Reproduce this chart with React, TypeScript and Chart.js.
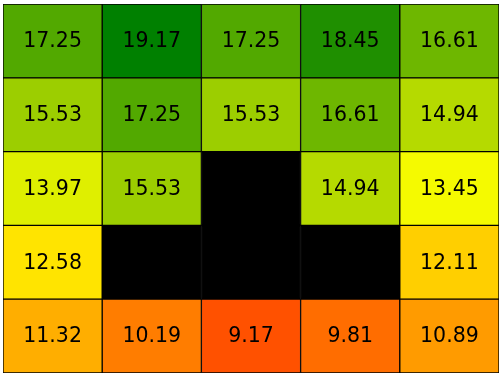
import React, { useEffect, useRef } from "react";
import { Chart, registerables } from "chart.js";

Chart.register(...registerables);

const columns = ["C1", "C2", "C3", "C4", "C5"];
// rows from top to bottom
const row1 = [17.25, 19.17, 17.25, 18.45, 16.61];
const row2 = [15.53, 17.25, 15.53, 16.61, 14.94];
const row3 = [13.97, 15.53, null, 14.94, 13.45];
const row4 = [12.58, null, null, null, 12.11];
const row5 = [11.32, 10.19, 9.17, 9.81, 10.89];
const rows: (number | null)[][] = [row1, row2, row3, row4, row5];

const LOW = 7.27;
const MID = 13.22;
const HIGH = 19.17;

function colorFor(v: number | null): string {
  if (v === null) return "#000000";
  let r: number, g: number, b = 0;
  if (v <= MID) {
    const t = Math.max(0, Math.min(1, (v - LOW) / (MID - LOW)));
    r = 255;
    g = 255 * t;
  } else {
    const t = Math.max(0, Math.min(1, (v - MID) / (HIGH - MID)));
    r = 255 * (1 - t);
    g = 255 - 127 * t;
  }
  return `rgb(${Math.round(r)},${Math.round(g)},${b})`;
}

const labelPlugin = {
  id: "cellLabels",
  afterDatasetsDraw(chart: any) {
    const ctx = chart.ctx;
    ctx.save();
    ctx.font = '20.5px "DejaVu Sans"';
    ctx.fillStyle = "#000000";
    ctx.textAlign = "center";
    ctx.textBaseline = "middle";
    chart.data.datasets.forEach((ds: any, di: number) => {
      const meta = chart.getDatasetMeta(di);
      meta.data.forEach((el: any, i: number) => {
        const v = ds.values[i];
        if (v === null) return;
        const { x, y, base } = el.getProps(["x", "y", "base"], true);
        ctx.fillText(v.toFixed(2), x, (y + base) / 2 + 1);
      });
    });
    ctx.restore();
  },
};

export default function App() {
  const ref = useRef<HTMLCanvasElement>(null);
  useEffect(() => {
    if (!ref.current) return;
    const bottomFirst = [...rows].reverse();
    const chart = new Chart(ref.current, {
      type: "bar",
      data: {
        labels: columns,
        datasets: bottomFirst.map((r, i) => ({
          label: `row${i}`,
          data: r.map(() => 1),
          values: r,
          backgroundColor: r.map(colorFor),
          borderColor: "#000000",
          borderWidth: 1,
          borderSkipped: false,
          barPercentage: 1,
          categoryPercentage: 1,
        })) as any,
      },
      options: {
        animation: false,
        responsive: true,
        maintainAspectRatio: false,
        layout: { padding: { left: 3, right: 4, top: 4, bottom: 5 } },
        plugins: { legend: { display: false }, tooltip: { enabled: false } },
        scales: {
          x: { stacked: true, display: false },
          y: { stacked: true, display: false, min: 0, max: 5 },
        },
      },
      plugins: [labelPlugin],
    });
    return () => chart.destroy();
  }, []);
  return (
    <div style={{ position: "fixed", left: 0, top: 0, width: 503, height: 378, background: "#fff" }}>
      <canvas ref={ref} />
    </div>
  );
}
